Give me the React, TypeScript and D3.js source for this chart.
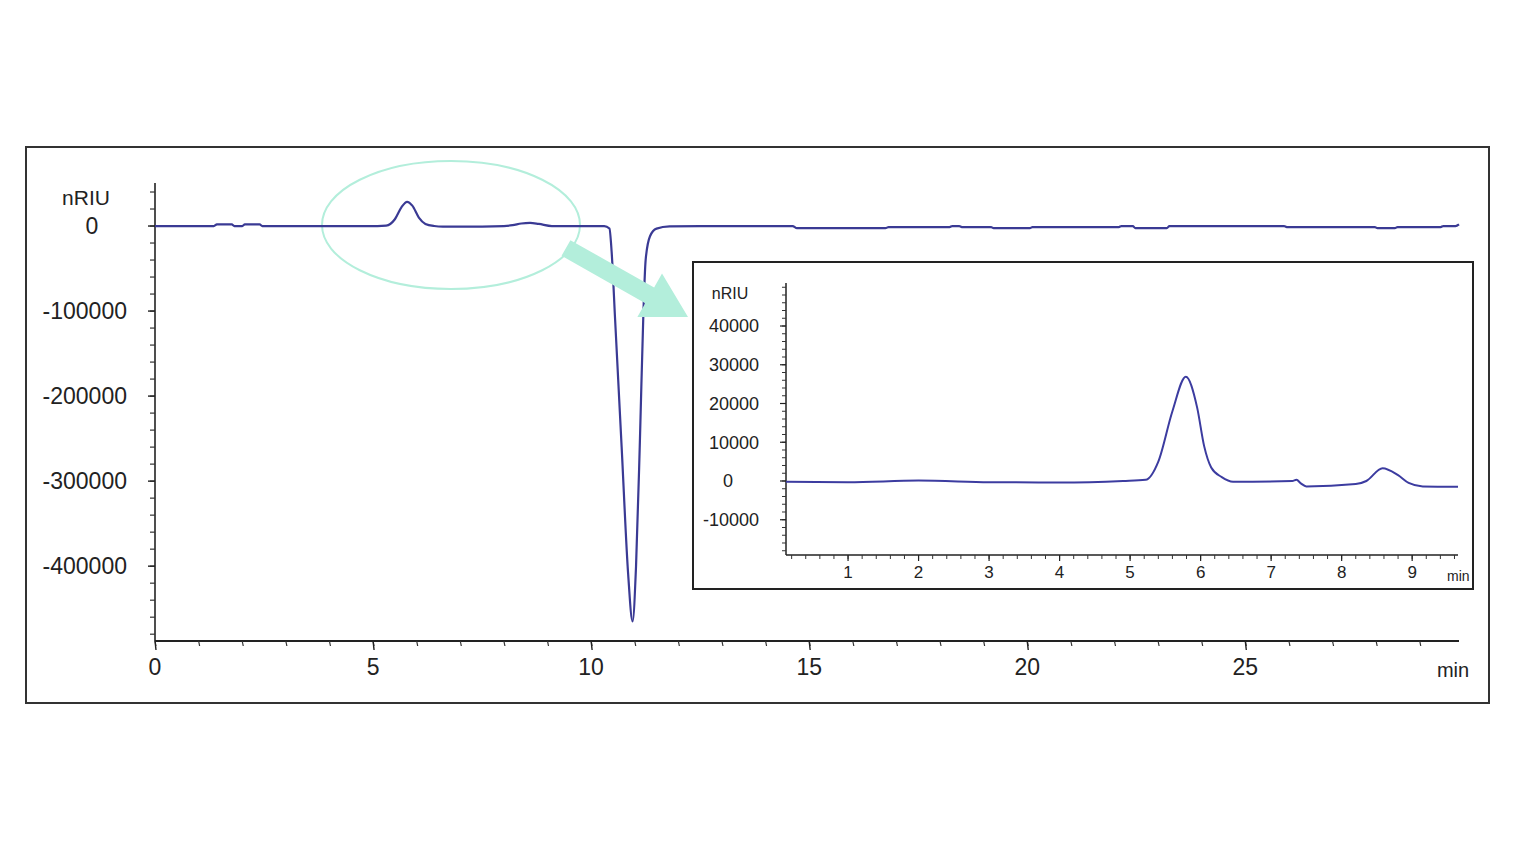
import React from "react";
import * as d3 from "d3";

// ---- Main chromatogram data (time in min, signal in nRIU) ----
const mainTime = [
  0, 1.35, 1.42, 1.76, 1.82, 2.0, 2.06, 2.4, 2.46, 5.1, 5.3, 5.5, 5.65, 5.78, 5.9, 6.05, 6.2, 6.4, 6.6, 7.0,
  8.0, 8.2, 8.4, 8.6, 8.8, 9.1, 10.3, 10.42, 10.47, 10.55, 10.7, 10.85, 10.95, 11.03, 11.12, 11.2, 11.25,
  11.35, 11.5, 11.8, 12.5, 14.62, 14.72, 16.75, 16.82, 18.22, 18.28, 18.44, 18.5, 19.17, 19.23, 20.06, 20.12,
  22.1, 22.16, 22.42, 22.48, 23.2, 23.26, 25.89, 25.95, 27.97, 28.03, 28.43, 28.49, 29.48, 29.54, 29.82, 29.9,
];
const mainSignal = [
  0, 0, 2000, 2000, 0, 0, 2000, 2000, 0, 0, 500, 8000, 22000, 28500, 24000, 10000, 2500, 0, -700, -700,
  0, 1000, 3000, 3700, 2500, 0, 0, -3000, -30000, -110000, -260000, -410000, -465000, -400000, -250000,
  -100000, -40000, -12000, -3000, -500, 0, 0, -2500, -2500, -1200, -1200, 0, 0, -1200, -1200, -2500,
  -2500, -1200, -1200, 0, 0, -2500, -2500, 0, 0, -1200, -1200, -2500, -2500, -1200, -1200, 0, 0, 2000,
];
const mainXTicks = [0, 5, 10, 15, 20, 25];
const mainYTicks = [0, -100000, -200000, -300000, -400000];

// ---- Inset (zoomed) data ----
const insetTime = [
  0.12, 1.0, 2.0, 3.0, 4.0, 4.9, 5.22, 5.4, 5.6, 5.79, 5.95, 6.05, 6.15, 6.3, 6.46, 7.3, 7.36, 7.42, 7.5,
  8.2, 8.35, 8.58, 8.8, 8.95, 9.15, 9.65,
];
const insetSignal = [
  -200, -300, 100, -300, -400, 0, 300, 5000, 18000, 26900, 19000, 9000, 3500, 1000, -200, 0, 300, -600,
  -1400, -800, 0, 3300, 1500, -500, -1400, -1500,
];
const insetXTicks = [1, 2, 3, 4, 5, 6, 7, 8, 9];
const insetYTicks = [40000, 30000, 20000, 10000, 0, -10000];

const FONT = "Arial, 'Liberation Sans', sans-serif";
const LINE = "#3a3a94";
const INSET_LINE = "#3c3ca0";
const MINT = "#b3eedb";

export default function App() {
  // main scales
  const mx = d3.scaleLinear().domain([0, 29.9]).range([155, 1459]);
  const my = d3.scaleLinear().domain([-488000, 50600]).range([641, 183]);
  // inset scales
  const ix = d3.scaleLinear().domain([0.12, 9.65]).range([786, 1458]);
  const iy = d3.scaleLinear().domain([-19100, 51100]).range([555, 283]);

  const mainLine = d3
    .line<number>()
    .x((_, i) => mx(mainTime[i]))
    .y((v) => my(v))
    .curve(d3.curveMonotoneX);
  const insetLine = d3
    .line<number>()
    .x((_, i) => ix(insetTime[i]))
    .y((v) => iy(v))
    .curve(d3.curveMonotoneX);

  const mainMinorX = d3.range(0, 30, 1);
  const mainMinorY = d3.range(40000, -488001, -20000);
  const insetMinorX = d3.range(0.2, 9.61, 0.2);
  const insetMinorY = d3.range(50000, -19001, -2000);

  // arrow geometry
  const S = [566, 248];
  const T = [688, 317];
  const dx = T[0] - S[0];
  const dy = T[1] - S[1];
  const L = Math.hypot(dx, dy);
  const u = [dx / L, dy / L];
  const n = [-u[1], u[0]];
  const hl = 44,
    hw = 25,
    sw = 9;
  const H = [T[0] - u[0] * hl, T[1] - u[1] * hl];
  const arrowPts = [
    [S[0] + n[0] * sw, S[1] + n[1] * sw],
    [H[0] + n[0] * sw, H[1] + n[1] * sw],
    [H[0] + n[0] * hw, H[1] + n[1] * hw],
    T,
    [H[0] - n[0] * hw, H[1] - n[1] * hw],
    [H[0] - n[0] * sw, H[1] - n[1] * sw],
    [S[0] - n[0] * sw, S[1] - n[1] * sw],
  ]
    .map((p) => p.join(","))
    .join(" ");

  return (
    <svg
      width={1517}
      height={853}
      style={{ position: "absolute", left: 0, top: 0, background: "#fff" }}
      fontFamily={FONT}
    >
      <rect x={0} y={0} width={1517} height={853} fill="#fff" />
      {/* outer frame */}
      <rect x={26} y={147} width={1463} height={556} fill="none" stroke="#333" strokeWidth={2} />

      {/* highlight ellipse */}
      <ellipse cx={451} cy={225} rx={129} ry={64} fill="none" stroke={MINT} strokeWidth={2} />

      {/* main y axis */}
      <line x1={155} y1={183} x2={155} y2={641} stroke="#222" strokeWidth={1.6} />
      {mainMinorY.map((v) => (
        <line key={"my" + v} x1={150} x2={155} y1={my(v)} y2={my(v)} stroke="#333" strokeWidth={1.2} />
      ))}
      {mainYTicks.map((v) => (
        <g key={"myt" + v}>
          <line x1={148} x2={155} y1={my(v)} y2={my(v)} stroke="#222" strokeWidth={1.4} />
          <text
            x={v === 0 ? 92 : 127}
            y={my(v)}
            dy="0.36em"
            textAnchor={v === 0 ? "middle" : "end"}
            fontSize={23}
            fill="#222"
          >
            {v}
          </text>
        </g>
      ))}
      <text x={86} y={197} dy="0.36em" textAnchor="middle" fontSize={21} fill="#222">
        nRIU
      </text>

      {/* main x axis */}
      <line x1={155} y1={641} x2={1459} y2={641} stroke="#222" strokeWidth={1.8} />
      {mainMinorX.map((t) => (
        <line key={"mx" + t} x1={mx(t)} x2={mx(t) + 1} y1={641} y2={646} stroke="#333" strokeWidth={1.2} />
      ))}
      {mainXTicks.map((t) => (
        <g key={"mxt" + t}>
          <line x1={mx(t)} x2={mx(t) + 1} y1={641} y2={650} stroke="#222" strokeWidth={1.4} />
          <text x={mx(t)} y={667} dy="0.36em" textAnchor="middle" fontSize={23} fill="#222">
            {t}
          </text>
        </g>
      ))}
      <text x={1453} y={670} dy="0.36em" textAnchor="middle" fontSize={20} fill="#222">
        min
      </text>

      {/* main trace */}
      <path d={mainLine(mainSignal) || ""} fill="none" stroke={LINE} strokeWidth={2.2} strokeLinejoin="round" />

      {/* arrow */}
      <polygon points={arrowPts} fill={MINT} />

      {/* inset */}
      <defs>
        <clipPath id="insetClip">
          <rect x={694} y={263} width={778} height={325} />
        </clipPath>
      </defs>
      <rect x={693} y={262} width={780} height={327} fill="#fff" stroke="#222" strokeWidth={2} />
      <g clipPath="url(#insetClip)">
        <line x1={786} y1={283} x2={786} y2={555} stroke="#222" strokeWidth={1.5} />
        {insetMinorY.map((v) => (
          <line key={"iy" + v} x1={782} x2={786} y1={iy(v)} y2={iy(v)} stroke="#333" strokeWidth={1} />
        ))}
        {insetYTicks.map((v) => (
          <g key={"iyt" + v}>
            <line x1={780} x2={786} y1={iy(v)} y2={iy(v)} stroke="#222" strokeWidth={1.2} />
            <text x={759} y={iy(v)} dy="0.36em" textAnchor={v === 0 ? "middle" : "end"} dx={v === 0 ? -31 : 0} fontSize={18} fill="#222">
              {v}
            </text>
          </g>
        ))}
        <text x={730} y={293} dy="0.36em" textAnchor="middle" fontSize={16} fill="#222">
          nRIU
        </text>
        <line x1={786} y1={555} x2={1458} y2={555} stroke="#222" strokeWidth={1.5} />
        {insetMinorX.map((t) => (
          <line key={"ix" + t} x1={ix(t)} x2={ix(t)} y1={555} y2={559} stroke="#333" strokeWidth={1} />
        ))}
        {insetXTicks.map((t) => (
          <g key={"ixt" + t}>
            <line x1={ix(t)} x2={ix(t)} y1={555} y2={561} stroke="#222" strokeWidth={1.2} />
            <text x={ix(t)} y={572} dy="0.36em" textAnchor="middle" fontSize={17} fill="#222">
              {t}
            </text>
          </g>
        ))}
        <text x={1447} y={576} dy="0.36em" textAnchor="start" fontSize={14} fill="#222">
          min
        </text>
        <path d={insetLine(insetSignal) || ""} fill="none" stroke={INSET_LINE} strokeWidth={2} strokeLinejoin="round" />
      </g>
    </svg>
  );
}
